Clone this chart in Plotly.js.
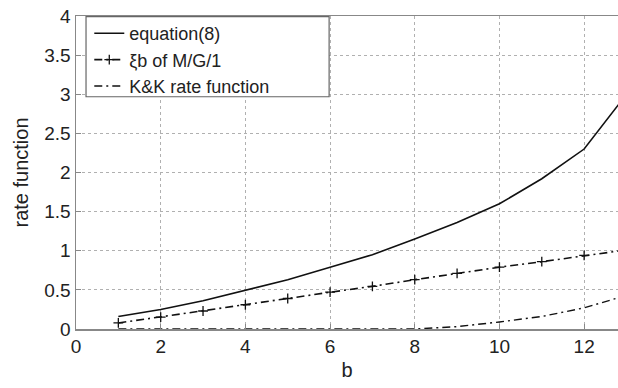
<!DOCTYPE html>
<html>
<head>
<meta charset="utf-8">
<script src="https://cdn.plot.ly/plotly-3.0.1.min.js"></script>
<style>html,body{margin:0;padding:0;background:#fff;}#chart{width:618px;height:388px;}</style>
</head>
<body>
<div id="chart"></div>
<script>
var b = [1, 2, 3, 4, 5, 6, 7, 8, 9, 10, 11, 12, 13];
var equation8 = [0.16, 0.25, 0.36, 0.5, 0.63, 0.79, 0.95, 1.15, 1.36, 1.6, 1.92, 2.3, 3.0];
var xibMG1 = [0.077, 0.153, 0.23, 0.31, 0.39, 0.47, 0.545, 0.63, 0.71, 0.79, 0.86, 0.94, 1.01];
var kkRate = [0, 0, 0, 0, 0, 0, 0, 0, 0.03, 0.09, 0.16, 0.27, 0.43];
var xTicks = [0, 2, 4, 6, 8, 10, 12];
var yTicks = [0, 0.5, 1, 1.5, 2, 2.5, 3, 3.5, 4];
var yTickText = ['0', '0.5', '1', '1.5', '2', '2.5', '3', '3.5', '4'];

var traces = [
  {x: b, y: equation8, name: 'equation(8)', mode: 'lines',
   line: {color: '#111', width: 1.6}},
  {x: b, y: xibMG1, name: 'ξb of M/G/1', mode: 'lines+markers',
   line: {color: '#111', width: 1.6, dash: '8px,4px,2px,4px'},
   marker: {symbol: 'cross-thin', size: 7, line: {color: '#111', width: 1.3}}},
  {x: b, y: kkRate, name: 'K&K rate function', mode: 'lines',
   line: {color: '#111', width: 1.4, dash: '8px,4px,2px,4px'}}
];

var fam = 'Liberation Sans, Arial, sans-serif';
var tickFont = {family: fam, size: 19, color: '#222'};
var titleFont = {family: fam, size: 20, color: '#222'};
var layout = {
  width: 618, height: 388,
  margin: {l: 76, r: 0, t: 16, b: 59},
  paper_bgcolor: '#fff', plot_bgcolor: '#fff',
  showlegend: true,
  legend: {x: 0.0245, y: 1.003, xanchor: 'left', yanchor: 'top',
    bgcolor: 'rgba(0,0,0,0)', borderwidth: 0,
    font: {family: fam, size: 18, color: '#222'},
    tracegroupgap: 0},
  shapes: [
    {type: 'rect', xref: 'paper', yref: 'paper', layer: 'above',
     x0: 0.0185, x1: 0.467, y0: 0.742, y1: 0.998,
     fillcolor: '#fff', line: {color: '#666', width: 1.2}}
  ],
  xaxis: {range: [0, 12.8], tickvals: xTicks, ticktext: xTicks.map(String),
    showgrid: true, gridcolor: '#b0b0b0', griddash: 'dot', gridwidth: 1,
    showline: true, linecolor: '#888', linewidth: 1.5, mirror: true,
    ticks: 'inside', ticklen: 5, tickcolor: '#888', zeroline: false,
    tickfont: tickFont,
    title: {text: 'b', font: titleFont, standoff: 6}},
  yaxis: {range: [0, 4], tickvals: yTicks, ticktext: yTickText,
    showgrid: true, gridcolor: '#b0b0b0', griddash: 'dot', gridwidth: 1,
    showline: true, linecolor: '#888', linewidth: 1.5,
    ticks: 'inside', ticklen: 5, tickcolor: '#888', zeroline: false,
    tickfont: tickFont,
    title: {text: 'rate function', font: titleFont, standoff: 10}}
};
Plotly.newPlot('chart', traces, layout, {displayModeBar: false, staticPlot: true});
</script>
</body>
</html>
